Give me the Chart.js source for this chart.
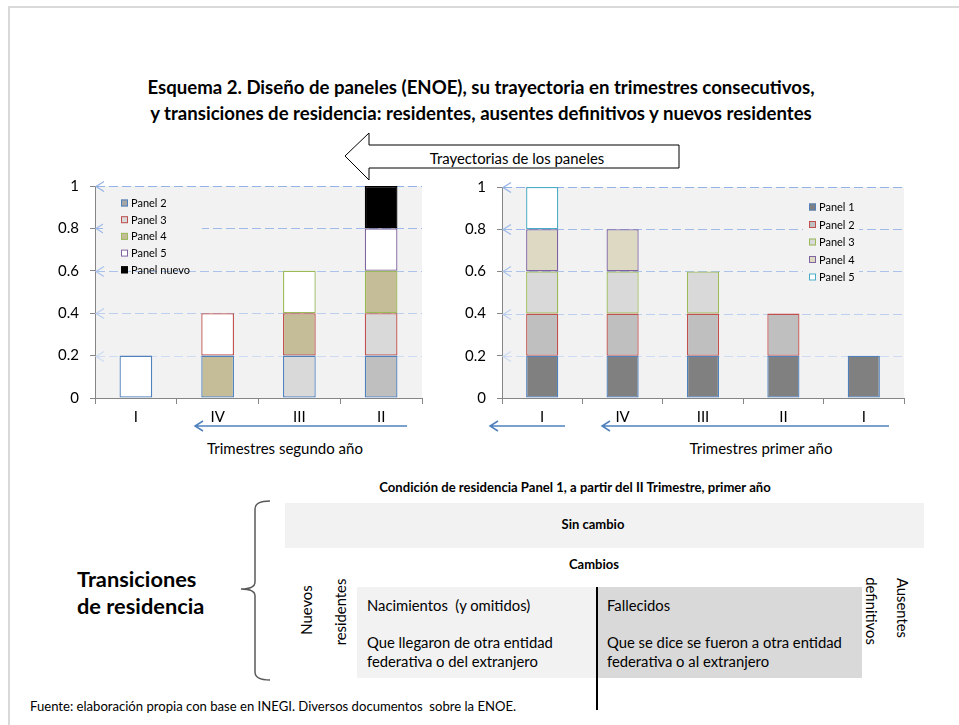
<!DOCTYPE html>
<html>
<head>
<meta charset="utf-8">
<script src="https://cdn.jsdelivr.net/npm/chart.js@4.4.1/dist/chart.umd.min.js"></script>
<style>
  body { margin: 0; background: #fff; }
  #page { position: relative; width: 959px; height: 725px; overflow: hidden; background: #fff; font-family: Lato, sans-serif; }
  #frame { position: absolute; left: 8px; top: 6px; width: 1000px; height: 800px; border-left: 2px solid #d9d9d9; border-top: 2px solid #d9d9d9; }
  canvas { position: absolute; }
  #left { left: 40px; top: 166px; }
  #right { left: 447px; top: 167px; }
  svg { position: absolute; left: 0; top: 0; }
  svg text { white-space: pre; }
</style>
</head>
<body>
<div id="page">
  <div id="frame"></div>
  <svg width="959" height="725" font-family="Lato, sans-serif">
    <text x="481" y="87" text-anchor="middle" dominant-baseline="central" font-weight="bold" font-size="18.6">Esquema 2. Diseño de paneles (ENOE), su trayectoria en trimestres consecutivos,</text>
    <text x="481" y="113" text-anchor="middle" dominant-baseline="central" font-weight="bold" font-size="18.6">y transiciones de residencia: residentes, ausentes definitivos y nuevos residentes</text>

    <polygon points="345,156 369,133 369,145 679,145 679,168 369,168 369,180" fill="#fff" stroke="#000" stroke-width="1"/>
    <text x="517" y="158" text-anchor="middle" dominant-baseline="central" font-size="14.9">Trayectorias de los paneles</text>

    <g stroke="#4f81bd" stroke-width="1.5" fill="none">
      <path d="M407,426 L195,426 M203,421 L195,426 L203,431"/>
      <path d="M565,426 L490,426 M498,421 L490,426 L498,431"/>
      <path d="M889,426 L602,426 M610,421 L602,426 L610,431"/>
    </g>
    <text x="285" y="448" text-anchor="middle" dominant-baseline="central" font-size="15">Trimestres segundo año</text>
    <text x="761" y="448" text-anchor="middle" dominant-baseline="central" font-size="15">Trimestres primer año</text>

    <text x="575" y="487" text-anchor="middle" dominant-baseline="central" font-weight="bold" font-size="13.1">Condición de residencia Panel 1, a partir del II Trimestre, primer año</text>
    <rect x="285" y="503" width="639" height="45" fill="#f2f2f2"/>
    <text x="593" y="524" text-anchor="middle" dominant-baseline="central" font-weight="bold" font-size="13">Sin cambio</text>
    <text x="594" y="564" text-anchor="middle" dominant-baseline="central" font-weight="bold" font-size="13">Cambios</text>

    <rect x="357" y="587" width="240" height="91" fill="#f2f2f2"/>
    <rect x="597" y="587" width="265" height="91" fill="#d9d9d9"/>
    <line x1="597" y1="587" x2="597" y2="710" stroke="#000" stroke-width="2"/>

    <g font-size="14.8" dominant-baseline="central">
      <text x="367" y="605">Nacimientos  (y omitidos)</text>
      <text x="367" y="642">Que llegaron de otra entidad</text>
      <text x="367" y="661">federativa o del extranjero</text>
      <text x="607" y="605">Fallecidos</text>
      <text x="607" y="642">Que se dice se fueron a otra entidad</text>
      <text x="607" y="661">federativa o al extranjero</text>
      <text transform="translate(306,610) rotate(-90)" text-anchor="middle">Nuevos</text>
      <text transform="translate(340,612) rotate(-90)" text-anchor="middle">residentes</text>
      <text transform="translate(872,611) rotate(90)" text-anchor="middle">definitivos</text>
      <text transform="translate(903,608) rotate(90)" text-anchor="middle">Ausentes</text>
    </g>

    <path d="M270,501 Q255,501 255,509 L255,582 Q255,589 241,589 Q255,589 255,596 L255,672 Q255,680 270,680" fill="none" stroke="#595959" stroke-width="1.5"/>
    <text x="77" y="578" dominant-baseline="central" font-weight="bold" font-size="21.8">Transiciones</text>
    <text x="77" y="605" dominant-baseline="central" font-weight="bold" font-size="21.8">de residencia</text>

    <text x="30" y="706" dominant-baseline="central" font-size="13.1">Fuente: elaboración propia con base en INEGI. Diversos documentos  sobre la ENOE.</text>
  </svg>
  <canvas id="left" width="392" height="262"></canvas>
  <canvas id="right" width="467" height="261"></canvas>
</div>
<script>
// datos
const yTicks = [0, 0.2, 0.4, 0.6, 0.8, 1];

const leftCategories = ['I', 'IV', 'III', 'II'];
const leftLevel1 = [0.2, 0.2, 0.2, 0.2];
const leftLevel2 = [null, 0.2, 0.2, 0.2];
const leftLevel3 = [null, null, 0.2, 0.2];
const leftLevel4 = [null, null, null, 0.2];
const leftLevel5 = [null, null, null, 0.2];
const leftLegend = ['Panel 2', 'Panel 3', 'Panel 4', 'Panel 5', 'Panel nuevo'];

const rightCategories = ['I', 'IV', 'III', 'II', 'I'];
const rightLevel1 = [0.2, 0.2, 0.2, 0.2, 0.2];
const rightLevel2 = [0.2, 0.2, 0.2, 0.2, null];
const rightLevel3 = [0.2, 0.2, 0.2, null, null];
const rightLevel4 = [0.2, 0.2, null, null, null];
const rightLevel5 = [0.2, null, null, null, null];
const rightLegend = ['Panel 1', 'Panel 2', 'Panel 3', 'Panel 4', 'Panel 5'];

// colores
const blue = '#4f81bd', red = '#c0504d', green = '#9bbb59', purple = '#8064a2', teal = '#4bacc6';
const olive = '#c4bd97';
const gridColors = ['rgba(0,0,0,0)', '#cddbf3', '#bccfef', '#abc3eb', '#9fbae8', '#93b2e5'];

// fondo del area, lineas guia punteadas con punta de flecha
const plotDeco = {
  id: 'plotDeco',
  beforeDraw(chart) {
    const a = chart.chartArea, ctx = chart.ctx;
    ctx.save();
    ctx.fillStyle = '#f2f2f2';
    ctx.fillRect(a.left, a.top, a.right - a.left, a.bottom - a.top);
    ctx.restore();
  },
  beforeDatasetsDraw(chart) {
    const a = chart.chartArea, ctx = chart.ctx, y = chart.scales.y;
    ctx.save();
    ctx.lineWidth = 1.2;
    yTicks.forEach((v, i) => {
      if (v === 0) return;
      const py = Math.round(y.getPixelForValue(v)) + 0.5;
      ctx.strokeStyle = gridColors[i];
      ctx.setLineDash([9, 4]);
      ctx.beginPath();
      ctx.moveTo(a.left + 1, py);
      ctx.lineTo(a.right, py);
      ctx.stroke();
      ctx.setLineDash([]);
      ctx.beginPath();
      ctx.moveTo(a.left + 9, py - 5);
      ctx.lineTo(a.left + 1, py);
      ctx.lineTo(a.left + 9, py + 5);
      ctx.stroke();
    });
    ctx.restore();
  }
};

const panelLegend = {
  id: 'panelLegend',
  afterDatasetsDraw(chart, args, opts) {
    const a = chart.chartArea, ctx = chart.ctx;
    ctx.save();
    ctx.fillStyle = '#f2f2f2';
    ctx.fillRect(a.left + opts.box[0], a.top + opts.box[1], opts.box[2], opts.box[3]);
    ctx.font = '11px Lato';
    ctx.textBaseline = 'middle';
    opts.labels.forEach((lab, i) => {
      const x = a.left + opts.x, y = a.top + opts.y + i * opts.rowH;
      ctx.fillStyle = opts.fills[i];
      ctx.fillRect(x, y - 3.5, 7, 7);
      ctx.strokeStyle = opts.borders[i];
      ctx.lineWidth = 1;
      ctx.strokeRect(x + 0.5, y - 3, 6, 6);
      ctx.fillStyle = '#000';
      ctx.fillText(lab, x + 10, y + 0.5);
    });
    ctx.restore();
  }
};

function bar(label, data, fill, border) {
  return {
    label: label,
    data: data,
    backgroundColor: fill,
    borderColor: border,
    borderWidth: 1.3,
    borderSkipped: false,
    categoryPercentage: 1,
    barPercentage: 0.4
  };
}

function makeOptions(legendOpts) {
  return {
    responsive: false,
    animation: false,
    layout: { padding: { top: 10, right: 10, left: 0, bottom: 0 } },
    plugins: {
      legend: { display: false },
      tooltip: { enabled: false },
      panelLegend: legendOpts
    },
    scales: {
      x: {
        stacked: true,
        afterFit: s => { s.height = 30; },
        grid: { offset: true, drawOnChartArea: false, color: '#868686', tickLength: 6 },
        border: { color: '#868686' },
        ticks: { color: '#000', font: { family: 'Lato', size: 15 }, padding: 4 }
      },
      y: {
        stacked: true,
        min: 0,
        max: 1,
        afterFit: s => { s.width = 55; },
        afterBuildTicks: s => { s.ticks = yTicks.map(v => ({ value: v })); },
        grid: { drawOnChartArea: false, tickColor: '#868686', tickLength: 5 },
        border: { color: '#868686' },
        ticks: { color: '#000', font: { family: 'Lato', size: 15 }, padding: 11, callback: v => String(v) }
      }
    }
  };
}

new Chart(document.getElementById('left'), {
  type: 'bar',
  data: {
    labels: leftCategories,
    datasets: [
      bar('Panel 2', leftLevel1, ['#ffffff', olive, '#d9d9d9', '#bfbfbf'], blue),
      bar('Panel 3', leftLevel2, ['#ffffff', '#ffffff', olive, '#d9d9d9'], red),
      bar('Panel 4', leftLevel3, ['#ffffff', '#ffffff', '#ffffff', olive], green),
      bar('Panel 5', leftLevel4, '#ffffff', purple),
      bar('Panel nuevo', leftLevel5, '#000000', '#000000')
    ]
  },
  options: makeOptions({
    labels: leftLegend,
    fills: ['#a6a6a6', '#d9d9d9', olive, '#ffffff', '#000000'],
    borders: [blue, red, green, purple, '#000000'],
    x: 26, y: 17, rowH: 16.7,
    box: [8, 7, 99, 72]
  }),
  plugins: [plotDeco, panelLegend]
});

new Chart(document.getElementById('right'), {
  type: 'bar',
  data: {
    labels: rightCategories,
    datasets: [
      bar('Panel 1', rightLevel1, '#808080', blue),
      bar('Panel 2', rightLevel2, '#bfbfbf', red),
      bar('Panel 3', rightLevel3, '#d9d9d9', green),
      bar('Panel 4', rightLevel4, '#ddd9c3', purple),
      bar('Panel 5', rightLevel5, '#ffffff', teal)
    ]
  },
  options: makeOptions({
    labels: rightLegend,
    fills: ['#808080', '#bfbfbf', '#d9d9d9', '#ddd9c3', '#ffffff'],
    borders: [blue, red, green, purple, teal],
    x: 307, y: 20, rowH: 17.5,
    box: [301, 9, 56, 90]
  }),
  plugins: [plotDeco, panelLegend]
});
</script>
</body>
</html>
